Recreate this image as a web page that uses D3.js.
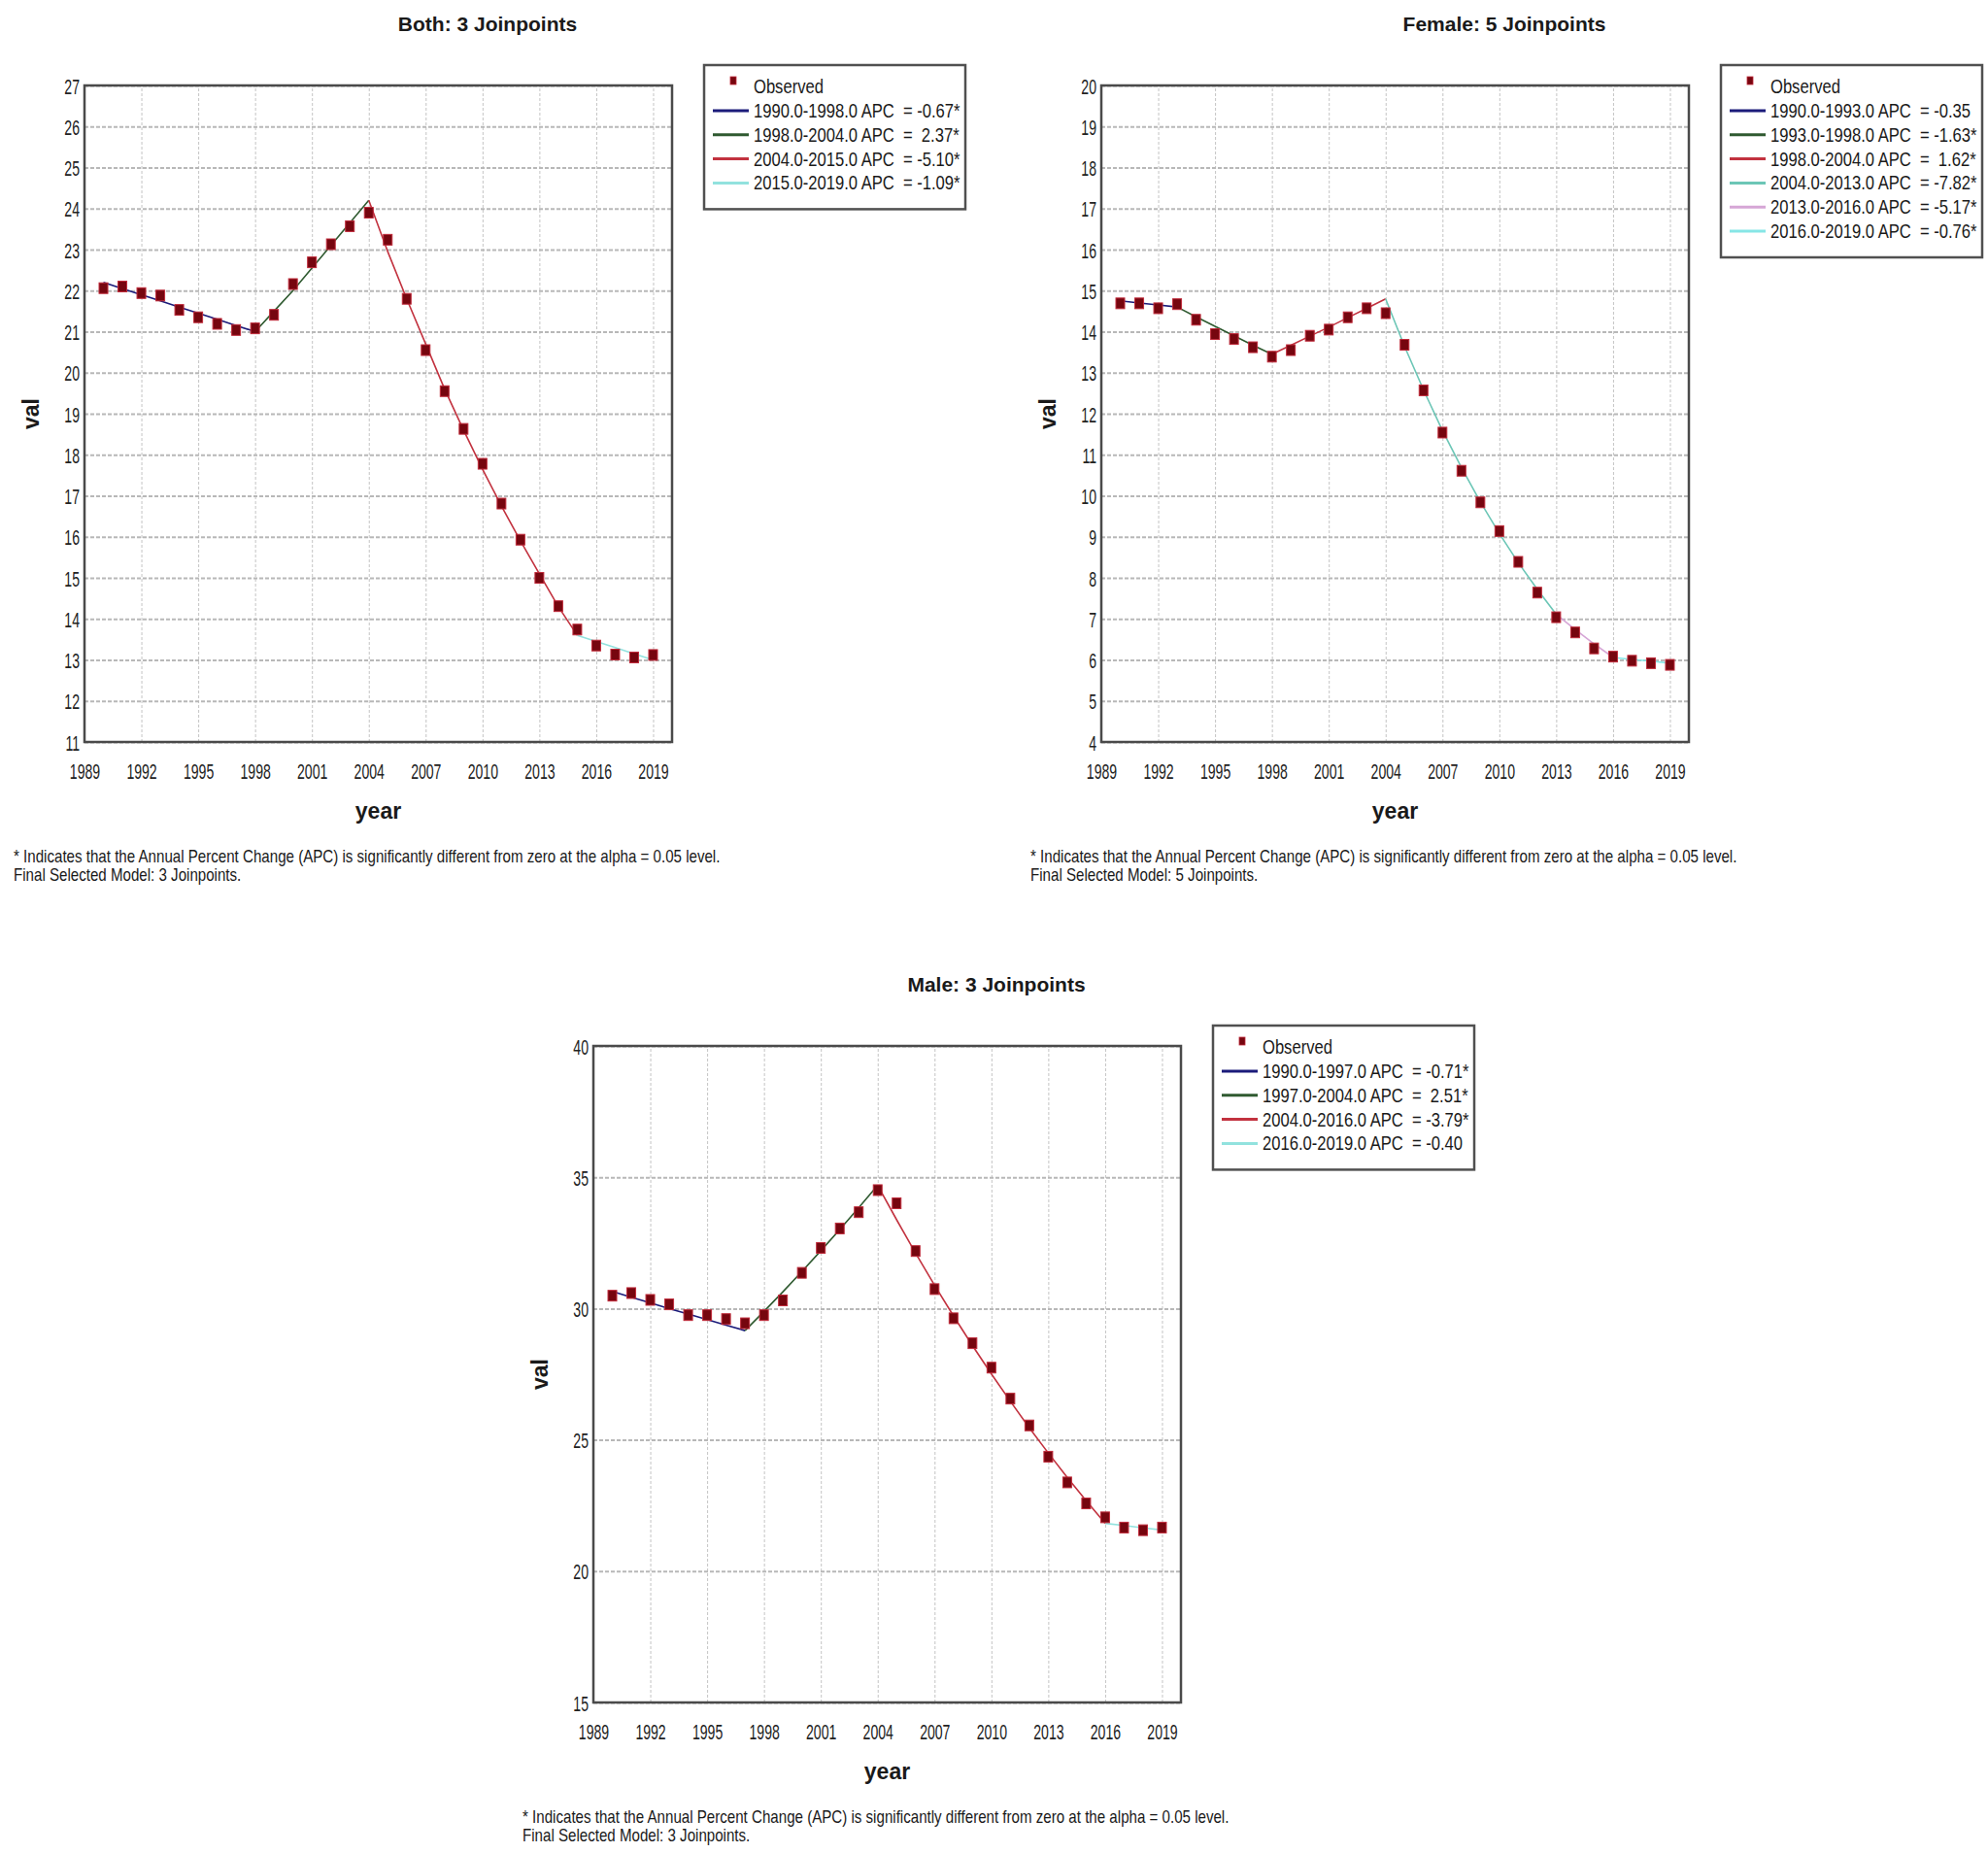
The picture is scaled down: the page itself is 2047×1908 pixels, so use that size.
<!DOCTYPE html>
<html>
<head>
<meta charset="utf-8">
<script src="https://cdn.jsdelivr.net/npm/d3@7"></script>
<style>
  body { margin: 0; background: #fff; }
  text { font-family: "Liberation Sans", Arial, sans-serif; fill: #1a1a1a; }
</style>
</head>
<body>
<div id="vis"></div>
<script>
var w = 2047;
var h = 1908;

// ---- shared data ----
var years = [1990, 1991, 1992, 1993, 1994, 1995, 1996, 1997, 1998, 1999,
             2000, 2001, 2002, 2003, 2004, 2005, 2006, 2007, 2008, 2009,
             2010, 2011, 2012, 2013, 2014, 2015, 2016, 2017, 2018, 2019];
var xTicks = [1989, 1992, 1995, 1998, 2001, 2004, 2007, 2010, 2013, 2016, 2019];
var footLine1 = "* Indicates that the Annual Percent Change (APC) is significantly different from zero at the alpha = 0.05 level.";

// ---- Both ----
var bothTitle = "Both: 3 Joinpoints";
var bothYTicks = [11, 12, 13, 14, 15, 16, 17, 18, 19, 20, 21, 22, 23, 24, 25, 26, 27];
var bothObs = [22.06, 22.10, 21.94, 21.88, 21.53, 21.35, 21.19, 21.04, 21.08, 21.41,
               22.16, 22.69, 23.13, 23.57, 23.90, 23.24, 21.80, 20.55, 19.55, 18.63,
               17.78, 16.81, 15.93, 15.00, 14.31, 13.74, 13.35, 13.13, 13.06, 13.12];
var bothFit = [22.20, 22.05, 21.90, 21.75, 21.60, 21.45, 21.30, 21.15, 21.00, 21.50,
               22.00, 22.55, 23.10, 23.65, 24.20, 22.95, 21.80, 20.70, 19.60, 18.60,
               17.65, 16.75, 15.90, 15.10, 14.30, 13.60, 13.45, 13.30, 13.15, 13.00];
var bothSegStart = [1990, 1998, 2004, 2015];
var bothSegEnd = [1998, 2004, 2015, 2019];
var bothSegLabels = ["1990.0-1998.0 APC  = -0.67*", "1998.0-2004.0 APC  =  2.37*",
                     "2004.0-2015.0 APC  = -5.10*", "2015.0-2019.0 APC  = -1.09*"];
var bothNote = "Final Selected Model: 3 Joinpoints.";

// ---- Female ----
var femaleTitle = "Female: 5 Joinpoints";
var femaleYTicks = [4, 5, 6, 7, 8, 9, 10, 11, 12, 13, 14, 15, 16, 17, 18, 19, 20];
var femaleObs = [14.69, 14.69, 14.57, 14.67, 14.29, 13.94, 13.82, 13.62, 13.39, 13.55,
                 13.90, 14.05, 14.35, 14.57, 14.45, 13.68, 12.57, 11.54, 10.61, 9.84,
                 9.14, 8.39, 7.64, 7.04, 6.67, 6.28, 6.08, 5.98, 5.92, 5.88];
var femaleFit = [14.75, 14.70, 14.65, 14.60, 14.36, 14.13, 13.90, 13.67, 13.45, 13.67,
                 13.89, 14.11, 14.34, 14.57, 14.80, 13.64, 12.58, 11.59, 10.69, 9.85,
                 9.08, 8.37, 7.72, 7.11, 6.74, 6.39, 6.06, 6.01, 5.97, 5.92];
var femaleSegStart = [1990, 1993, 1998, 2004, 2013, 2016];
var femaleSegEnd = [1993, 1998, 2004, 2013, 2016, 2019];
var femaleSegLabels = ["1990.0-1993.0 APC  = -0.35", "1993.0-1998.0 APC  = -1.63*",
                       "1998.0-2004.0 APC  =  1.62*", "2004.0-2013.0 APC  = -7.82*",
                       "2013.0-2016.0 APC  = -5.17*", "2016.0-2019.0 APC  = -0.76*"];
var femaleNote = "Final Selected Model: 5 Joinpoints.";

// ---- Male ----
var maleTitle = "Male: 3 Joinpoints";
var maleYTicks = [15, 20, 25, 30, 35, 40];
var maleObs = [30.49, 30.59, 30.33, 30.16, 29.75, 29.75, 29.60, 29.44, 29.75, 30.31,
               31.36, 32.31, 33.05, 33.67, 34.51, 34.01, 32.19, 30.74, 29.63, 28.68,
               27.75, 26.57, 25.55, 24.36, 23.38, 22.58, 22.05, 21.66, 21.56, 21.66];
var maleFit = [30.65, 30.43, 30.22, 30.00, 29.79, 29.58, 29.37, 29.16, 29.89, 30.64,
               31.41, 32.20, 33.01, 33.84, 34.69, 33.38, 32.11, 30.89, 29.72, 28.59,
               27.51, 26.47, 25.46, 24.50, 23.57, 22.68, 21.82, 21.74, 21.65, 21.57];
var maleSegStart = [1990, 1997, 2004, 2016];
var maleSegEnd = [1997, 2004, 2016, 2019];
var maleSegLabels = ["1990.0-1997.0 APC  = -0.71*", "1997.0-2004.0 APC  =  2.51*",
                     "2004.0-2016.0 APC  = -3.79*", "2016.0-2019.0 APC  = -0.40"];
var maleNote = "Final Selected Model: 3 Joinpoints.";

// ---- styles ----
var colors4 = ["#1b1b7a", "#2f5a30", "#c2323f", "#92e2de"];
var colors6 = ["#1b1b7a", "#2f5a30", "#c2323f", "#6cc6b6", "#d6a6d6", "#86e6e6"];

var panels = [
  { title: bothTitle, yTicks: bothYTicks, obs: bothObs, fit: bothFit, segStart: bothSegStart,
    segEnd: bothSegEnd, labels: bothSegLabels, note: bothNote, colors: colors4, left: 87, top: 88 },
  { title: femaleTitle, yTicks: femaleYTicks, obs: femaleObs, fit: femaleFit, segStart: femaleSegStart,
    segEnd: femaleSegEnd, labels: femaleSegLabels, note: femaleNote, colors: colors6, left: 1134, top: 88 },
  { title: maleTitle, yTicks: maleYTicks, obs: maleObs, fit: maleFit, segStart: maleSegStart,
    segEnd: maleSegEnd, labels: maleSegLabels, note: maleNote, colors: colors4, left: 611, top: 1077 }
];

var svg = d3.select("#vis").append("svg").attr("width", w).attr("height", h);
svg.append("rect").attr("width", w).attr("height", h).attr("fill", "#fff");

// text squeezed horizontally (the source fonts are narrow)
function squeezed(g, x, y, str, size, k, anchor) {
  return g.append("text")
    .attr("transform", "translate(" + x + "," + y + ") scale(" + k + ",1)")
    .attr("text-anchor", anchor || "start")
    .style("font-size", size + "px")
    .style("white-space", "pre")
    .text(str);
}

function drawPanel(p) {
  var L = p.left, T = p.top, pw = 605, ph = 676;
  var g = svg.append("g");
  var x = d3.scaleLinear().domain([1989, 2020]).range([L, L + pw]);
  var y = d3.scaleLinear().domain([p.yTicks[0], p.yTicks[p.yTicks.length - 1]]).range([T + ph, T]);

  // grid
  var gridX = g.append("g").attr("transform", "translate(0," + (T + ph) + ")")
    .call(d3.axisBottom(x).tickValues(xTicks).tickSize(-ph).tickFormat(""));
  gridX.select(".domain").remove();
  gridX.selectAll("line").attr("stroke", "#c4c4c4").attr("stroke-width", 1).attr("stroke-dasharray", "3,2");

  var gridY = g.append("g").attr("transform", "translate(" + L + ",0)")
    .call(d3.axisLeft(y).tickValues(p.yTicks).tickSize(-pw).tickFormat(""));
  gridY.select(".domain").remove();
  gridY.selectAll("line").attr("stroke", "#b8b8b8").attr("stroke-width", 2).attr("stroke-dasharray", "4,2");

  // frame
  g.append("rect").attr("x", L).attr("y", T).attr("width", pw).attr("height", ph)
    .attr("fill", "none").attr("stroke", "#4a4a4a").attr("stroke-width", 2.5);

  // tick labels
  var gx = g.append("g").attr("transform", "translate(0," + (T + ph) + ")")
    .call(d3.axisBottom(x).tickValues(xTicks).tickSize(0).tickFormat(d3.format("d")));
  gx.select(".domain").remove();
  gx.selectAll("text").attr("y", 0).attr("dy", null)
    .attr("transform", "translate(0,38) scale(0.64,1)")
    .style("font-size", "22px").style("fill", "#222");

  var gy = g.append("g").attr("transform", "translate(" + L + ",0)")
    .call(d3.axisLeft(y).tickValues(p.yTicks).tickSize(0).tickFormat(d3.format("d")));
  gy.select(".domain").remove();
  gy.selectAll("text").attr("x", 0).attr("dy", null)
    .attr("transform", "translate(-5,8) scale(0.64,1)")
    .style("font-size", "22px").style("fill", "#222");

  // titles
  g.append("text").attr("x", L + 415).attr("y", T - 56).attr("text-anchor", "middle")
    .style("font-size", "21px").style("font-weight", "bold").text(p.title);
  g.append("text").attr("x", L + pw / 2).attr("y", T + 755).attr("text-anchor", "middle")
    .style("font-size", "23px").style("font-weight", "bold").text("year");
  g.append("text").attr("transform", "translate(" + (L - 47) + "," + (T + ph / 2) + ") rotate(-90)")
    .attr("text-anchor", "middle")
    .style("font-size", "23px").style("font-weight", "bold").text("val");

  // fitted segments
  var line = d3.line().x(function (d) { return x(d[0]); }).y(function (d) { return y(d[1]); });
  var fitPts = years.map(function (yr, j) { return [yr, p.fit[j]]; });
  p.segStart.forEach(function (s, i) {
    var pts = fitPts.filter(function (d) { return d[0] >= s && d[0] <= p.segEnd[i]; });
    g.append("path").attr("d", line(pts)).attr("fill", "none")
      .attr("stroke", p.colors[i]).attr("stroke-width", 1.6);
  });

  // observed markers
  g.selectAll(null).data(years.map(function (yr, j) { return [yr, p.obs[j]]; }))
    .enter().append("rect")
    .attr("x", function (d) { return x(d[0]) - 4.5; })
    .attr("y", function (d) { return y(d[1]) - 5.5; })
    .attr("width", 9).attr("height", 11)
    .attr("fill", "#76060f").attr("stroke", "#c02a3a").attr("stroke-width", 1);

  // legend
  var n = p.labels.length;
  var rowGap = 24.8;
  var lx = L + 638, ly = T - 21, lw = 269, lh = 74 + (n - 1) * rowGap;
  var lg = g.append("g");
  lg.append("rect").attr("x", lx).attr("y", ly).attr("width", lw).attr("height", lh)
    .attr("fill", "#fff").attr("stroke", "#505050").attr("stroke-width", 2.5);
  lg.append("rect").attr("x", lx + 27).attr("y", T - 9).attr("width", 6).attr("height", 8)
    .attr("fill", "#76060f").attr("stroke", "#c02a3a").attr("stroke-width", 0.8);
  squeezed(lg, lx + 51, T + 8, "Observed", 20, 0.83);
  p.labels.forEach(function (lab, j) {
    var yc = T + 26 + j * rowGap;
    lg.append("line").attr("x1", lx + 9).attr("x2", lx + 46).attr("y1", yc).attr("y2", yc)
      .attr("stroke", p.colors[j]).attr("stroke-width", 3);
    squeezed(lg, lx + 51, yc + 7, lab, 20, 0.83);
  });

  // footnote
  squeezed(g, L - 73, T + 800, footLine1, 18, 0.84);
  squeezed(g, L - 73, T + 819, p.note, 18, 0.84);
}

panels.forEach(drawPanel);
</script>
</body>
</html>
